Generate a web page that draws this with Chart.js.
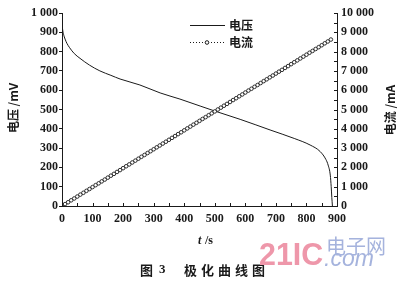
<!DOCTYPE html>
<html>
<head>
<meta charset="utf-8">
<script src="https://cdn.jsdelivr.net/npm/chart.js@4/dist/chart.umd.min.js"></script>
<style>
  body { margin: 0; background: #fff; }
  #graf { display: block; }
</style>
</head>
<body>
<canvas id="graf" width="400" height="281"></canvas>
<script>
// TIEMPO (s) Y VOLTAJE (mV)
const tiempoV = [0, 2, 5, 10, 16, 25, 40, 59, 90, 124, 160, 190, 255, 321, 386, 452, 500, 583, 681, 760, 812, 845, 864, 871, 878, 881, 883, 885];
const voltaje = [950, 915, 890, 865, 843, 820, 790, 765, 730, 700, 677, 658, 627, 586, 554, 518, 492, 449, 394, 350, 316, 282, 240, 212, 160, 100, 45, 0];

// TIEMPO (s) Y CORRIENTE (mA), UN CIRCULO CADA 10 s
const tiempoI = [0, 10, 20, 30, 40, 50, 60, 70, 80, 90, 100, 110, 120, 130, 140, 150, 160, 170, 180, 190,
  200, 210, 220, 230, 240, 250, 260, 270, 280, 290, 300, 310, 320, 330, 340, 350, 360, 370, 380, 390,
  400, 410, 420, 430, 440, 450, 460, 470, 480, 490, 500, 510, 520, 530, 540, 550, 560, 570, 580, 590,
  600, 610, 620, 630, 640, 650, 660, 670, 680, 690, 700, 710, 720, 730, 740, 750, 760, 770, 780, 790,
  800, 810, 820, 830, 840, 850, 860, 870, 880];
const corriente = [0, 100, 195, 295, 390, 490, 590, 685, 785, 880, 980, 1080, 1175, 1275, 1370, 1470, 1570, 1665, 1765, 1860,
  1960, 2060, 2155, 2255, 2350, 2450, 2550, 2645, 2745, 2840, 2940, 3040, 3135, 3235, 3330, 3430, 3530, 3625, 3725, 3820,
  3920, 4020, 4115, 4215, 4310, 4410, 4510, 4605, 4705, 4800, 4900, 5000, 5095, 5195, 5290, 5390, 5490, 5585, 5685, 5780,
  5880, 5980, 6075, 6175, 6270, 6370, 6470, 6565, 6665, 6760, 6860, 6960, 7055, 7155, 7250, 7350, 7450, 7545, 7645, 7740,
  7840, 7940, 8035, 8135, 8230, 8330, 8430, 8525, 8625];

const TIEMPO_MAX = 900, VOLT_MAX = 1000, CORR_MAX = 10000;

const serif = "'Liberation Serif', 'DejaVu Serif', serif";
const cjk = "'Noto Sans CJK SC', sans-serif";
const tinta = "#1a1a1a";

// 1000 -> "1 000"
const miles = (v) => String(v).replace(/\B(?=(\d{3})+(?!\d))/g, " ");

const puntosV = tiempoV.map((t, i) => ({ x: t, y: voltaje[i] }));
const puntosI = tiempoI.map((t, i) => ({ x: t, y: corriente[i] }));

// TEXTOS, LEYENDA Y MARCAS INTERIORES
const extras = {
  id: "extras",
  afterDraw(chart) {
    const ctx = chart.ctx;
    const sx = chart.scales.x, sy1 = chart.scales.y1;
    const base = chart.chartArea.bottom, der = chart.chartArea.right;
    ctx.save();
    ctx.strokeStyle = tinta;
    ctx.lineWidth = 1;
    // marcas del eje x hacia dentro
    for (let v = 0; v <= TIEMPO_MAX; v += 50) {
      const px = Math.round(sx.getPixelForValue(v)) + 0.5;
      ctx.beginPath(); ctx.moveTo(px, base); ctx.lineTo(px, base - 3); ctx.stroke();
    }
    // marcas del eje derecho hacia dentro
    for (let v = 0; v <= CORR_MAX; v += 500) {
      const py = Math.round(sy1.getPixelForValue(v)) + 0.5;
      ctx.beginPath(); ctx.moveTo(der, py); ctx.lineTo(der - 3, py); ctx.stroke();
    }

    ctx.fillStyle = tinta;
    ctx.textBaseline = "middle";
    // titulos de los ejes y
    ctx.font = "bold 12px " + cjk;
    [[13, 108, "电压 /mV"], [390, 110, "电流 /mA"]].forEach(([x, y, txt]) => {
      ctx.save();
      ctx.translate(x, y);
      ctx.rotate(-Math.PI / 2);
      ctx.textAlign = "center";
      ctx.fillText(txt, 0, 0);
      ctx.restore();
    });

    // titulo eje x: t /s
    ctx.textAlign = "left";
    ctx.font = "italic bold 12px " + serif;
    ctx.fillText("t", 198, 241);
    ctx.font = "bold 12px " + serif;
    ctx.fillText(" /s", 202, 241);

    // leyenda
    ctx.beginPath(); ctx.moveTo(190, 25.5); ctx.lineTo(225, 25.5); ctx.stroke();
    ctx.setLineDash([1, 2]);
    ctx.beginPath(); ctx.moveTo(190, 42.5); ctx.lineTo(225, 42.5); ctx.stroke();
    ctx.setLineDash([]);
    ctx.fillStyle = "#fff";
    ctx.beginPath(); ctx.arc(207, 42.5, 1.8, 0, Math.PI * 2); ctx.fill(); ctx.stroke();
    ctx.fillStyle = tinta;
    ctx.font = "bold 12px " + cjk;
    ctx.fillText("电压", 229, 25);
    ctx.fillText("电流", 229, 42);

    // pie de figura
    ctx.font = "bold 13px " + cjk;
    ctx.fillText("图", 140, 270);
    ctx.font = "bold 13px " + serif;
    ctx.fillText("3", 159, 270);
    ctx.font = "bold 13px " + cjk;
    "极化曲线图".split("").forEach((c, i) => ctx.fillText(c, 184 + i * 17, 270));

    // marca de agua
    ctx.textBaseline = "alphabetic";
    ctx.fillStyle = "#ee97aa";
    ctx.save();
    ctx.translate(259, 265);
    ctx.scale(0.95, 1);
    ctx.font = "bold 32px 'Liberation Sans', sans-serif";
    ctx.fillText("21IC", 0, 0);
    ctx.restore();
    ctx.fillStyle = "#a5b3dd";
    ctx.font = "20px " + cjk;
    ctx.fillText("电子网", 326, 254);
    ctx.font = "italic 23px 'Liberation Sans', sans-serif";
    ctx.fillText(".com", 324, 266);
    ctx.restore();
  },
};

new Chart(document.getElementById("graf"), {
  type: "line",
  data: {
    datasets: [
      {
        // VOLTAJE
        data: puntosV,
        yAxisID: "y",
        borderColor: tinta,
        borderWidth: 1,
        pointRadius: 0,
        cubicInterpolationMode: "monotone",
        order: 2,
      },
      {
        // CORRIENTE
        data: puntosI,
        yAxisID: "y1",
        borderColor: "#555",
        borderWidth: 0.7,
        borderDash: [1, 2],
        pointRadius: 1.8,
        pointBorderWidth: 0.9,
        pointBorderColor: tinta,
        pointBackgroundColor: "#fff",
        order: 1,
      },
    ],
  },
  options: {
    responsive: false,
    devicePixelRatio: 1,
    animation: false,
    layout: { padding: { top: 13, left: 0, right: 0, bottom: 0 } },
    plugins: { legend: { display: false }, tooltip: { enabled: false } },
    scales: {
      x: {
        type: "linear",
        min: 0,
        max: TIEMPO_MAX,
        afterFit(s) { s.height = 75; },
        border: { color: tinta, width: 1 },
        grid: { drawOnChartArea: false, drawTicks: false },
        ticks: {
          stepSize: 100,
          padding: 6,
          color: tinta,
          font: { family: serif, size: 12, weight: "bold" },
          maxRotation: 0,
        },
      },
      y: {
        position: "left",
        min: 0,
        max: VOLT_MAX,
        afterFit(s) { s.width = 62; },
        border: { color: tinta, width: 1 },
        grid: { drawOnChartArea: false, tickLength: 3, color: tinta },
        ticks: {
          stepSize: 100,
          padding: 1,
          color: tinta,
          font: { family: serif, size: 12, weight: "bold" },
          callback: (v) => miles(v),
        },
      },
      y1: {
        position: "right",
        min: 0,
        max: CORR_MAX,
        afterFit(s) { s.width = 63; },
        border: { color: tinta, width: 1 },
        grid: { drawOnChartArea: false, drawTicks: false },
        ticks: {
          stepSize: 1000,
          padding: 4,
          color: tinta,
          font: { family: serif, size: 12, weight: "bold" },
          callback: (v) => miles(v),
        },
      },
    },
  },
  plugins: [extras],
});
</script>
</body>
</html>
